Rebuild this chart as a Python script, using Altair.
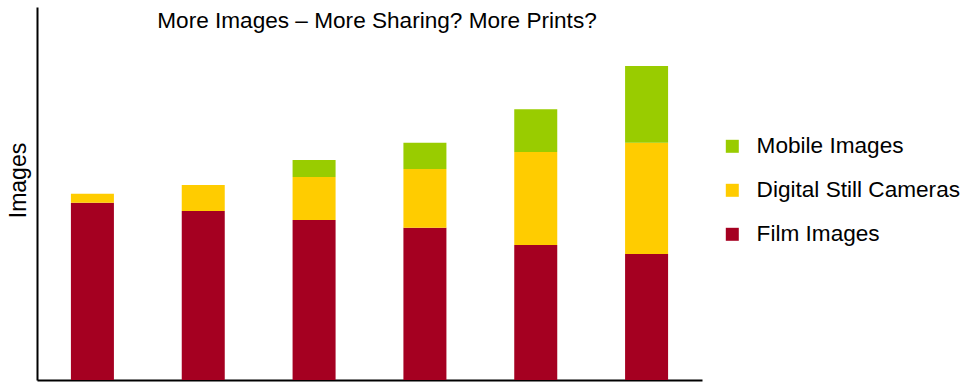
import altair as alt
import pandas as pd

# Data (relative image volumes; axis has no numeric labels)
periods = ["P1", "P2", "P3", "P4", "P5", "P6"]
film_images = [47.5, 45.3, 42.9, 40.8, 36.2, 33.8]
digital_still = [2.4, 7.0, 11.5, 15.8, 24.9, 29.8]
mobile_images = [0.0, 0.0, 4.6, 7.0, 11.5, 20.6]

series_names = ["Mobile Images", "Digital Still Cameras", "Film Images"]
series_colors = ["#99CC00", "#FFCC00", "#A50021"]
stack_rank = {"Film Images": 0, "Digital Still Cameras": 1, "Mobile Images": 2}

rows = []
for i, p in enumerate(periods):
    for name, vals in (("Film Images", film_images),
                       ("Digital Still Cameras", digital_still),
                       ("Mobile Images", mobile_images)):
        rows.append({"period": p, "series": name, "value": vals[i], "rank": stack_rank[name]})
df = pd.DataFrame(rows)

title_text = "More Images \u2013 More Sharing? More Prints?"
FONT = "Liberation Sans"

bars = alt.Chart(df).mark_bar().encode(
    x=alt.X("period:N", sort=periods,
            scale=alt.Scale(paddingInner=0.612, paddingOuter=0.306),
            axis=alt.Axis(title=None, labels=False, ticks=False, grid=False,
                          domainColor="#000", domainWidth=2)),
    y=alt.Y("value:Q", stack="zero",
            scale=alt.Scale(domain=[0, 100], nice=False, zero=True),
            axis=alt.Axis(title="Images", labels=False, ticks=False, grid=False,
                          domainColor="#000", domainWidth=2,
                          titleFont=FONT, titleFontSize=23, titleFontWeight="normal",
                          titleColor="#000", titleAngle=270,
                          titleX=-19, titleY=173,
                          titleAlign="center", titleBaseline="middle")),
    color=alt.Color("series:N",
                    scale=alt.Scale(domain=series_names, range=series_colors),
                    legend=alt.Legend(title=None, orient="none",
                                      legendX=684, legendY=128,
                                      symbolType="square", symbolSize=169,
                                      symbolStrokeWidth=0, symbolOpacity=1,
                                      labelFont=FONT, labelFontSize=22.6,
                                      labelColor="#000", labelOffset=13,
                                      labelLimit=0,
                                      rowPadding=21, padding=0)),
    order=alt.Order("rank:Q", sort="ascending"),
)

title_df = pd.DataFrame({"t": [title_text]})
title_layer = alt.Chart(title_df).mark_text(
    font=FONT, fontSize=22.6, color="#000", align="center", baseline="alphabetic"
).encode(
    text="t:N",
    x=alt.value(340),
    y=alt.value(21),
)

chart = alt.layer(bars, title_layer).properties(
    width=665,
    height=373,
    background="white",
    autosize=alt.AutoSizeParams(type="none"),
    padding={"left": 37, "top": 7, "right": 271, "bottom": 2},
).configure_view(stroke=None)

chart.save("out.html", embed_options={"renderer": "svg", "actions": False})
